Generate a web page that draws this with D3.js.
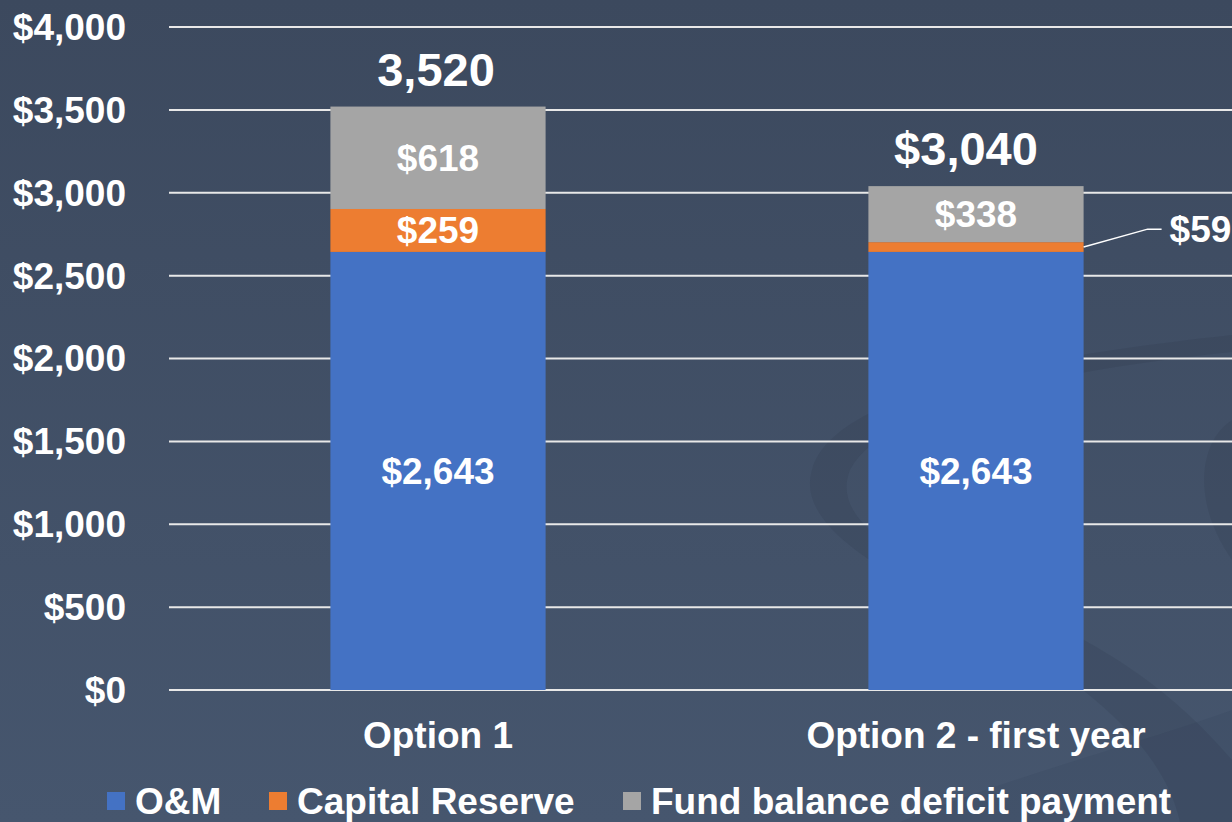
<!DOCTYPE html>
<html>
<head>
<meta charset="utf-8">
<script src="https://cdn.jsdelivr.net/npm/d3@7"></script>
<style>
  html, body { margin: 0; padding: 0; background: #42516a; }
  svg { display: block; }
  text { font-family: "Liberation Sans", Arial, sans-serif; font-weight: bold; fill: #ffffff; }
</style>
</head>
<body>
<script>
// chart data
let categories = ["Option 1", "Option 2 - first year"]
let seriesNames = ["O&M", "Capital Reserve", "Fund balance deficit payment"]
let omValues = [2643, 2643]
let capitalValues = [259, 59]
let deficitValues = [618, 338]
let totalLabels = ["3,520", "$3,040"]
let yTicks = [0, 500, 1000, 1500, 2000, 2500, 3000, 3500, 4000]
let colors = ["#4472c4", "#ed7d31", "#a5a5a5"]

let width = 1232
let height = 822

let svg = d3.select('body')
  .append('svg')
  .attr('width', width)
  .attr('height', height)

// background
let defs = svg.append('defs')
let grad = defs.append('linearGradient')
  .attr('id', 'bg')
  .attr('x1', 0).attr('y1', 0).attr('x2', 0).attr('y2', 1)
grad.append('stop').attr('offset', '0%').attr('stop-color', '#3c495e')
grad.append('stop').attr('offset', '100%').attr('stop-color', '#46566e')

svg.append('rect')
  .attr('width', width)
  .attr('height', height)
  .attr('fill', 'url(#bg)')

// decorative swoosh, bottom right
let deco = svg.append('g').attr('fill', '#1f2a3a').attr('fill-opacity', 0.12)
deco.append('path')
  .attr('d', 'M812,470 C830,400 1000,360 1232,335 L1232,352 C1040,372 880,410 850,470 C830,520 900,560 1000,600 C1120,650 1180,700 1232,760 L1232,822 L1180,822 C1160,730 1050,660 940,600 C840,550 800,510 812,470 Z')
deco.append('path')
  .attr('d', 'M1232,420 C1200,440 1190,500 1232,560 Z')
deco.append('path')
  .attr('d', 'M900,822 C1000,780 1150,740 1232,710 L1232,822 Z')
  .attr('fill-opacity', 0.08)

let x = d3.scaleBand()
  .domain(categories)
  .range([169, 1245])
  .paddingInner(0.6)
  .paddingOuter(0.3)

let y = d3.scaleLinear()
  .domain([0, 4000])
  .range([690, 27])

// gridlines
svg.append('g')
  .selectAll('line')
  .data(yTicks)
  .enter()
  .append('line')
  .attr('x1', 169)
  .attr('x2', width)
  .attr('y1', d => y(d))
  .attr('y2', d => y(d))
  .attr('stroke', '#e8e8e8')
  .attr('stroke-width', 2)

// y tick labels
svg.append('g')
  .selectAll('text')
  .data(yTicks)
  .enter()
  .append('text')
  .attr('x', 126)
  .attr('y', d => y(d))
  .attr('dy', '0.35em')
  .attr('text-anchor', 'end')
  .style('font-size', '37px')
  .text(d => '$' + d3.format(',')(d))

// stacked data
let rows = categories.map((c, i) => ({
  cat: c,
  "O&M": omValues[i],
  "Capital Reserve": capitalValues[i],
  "Fund balance deficit payment": deficitValues[i]
}))
let stacked = d3.stack().keys(seriesNames)(rows)

let layers = svg.append('g')
  .selectAll('g')
  .data(stacked)
  .enter()
  .append('g')
  .attr('fill', (d, i) => colors[i])

layers.selectAll('rect')
  .data(d => d)
  .enter()
  .append('rect')
  .attr('x', d => x(d.data.cat))
  .attr('width', x.bandwidth())
  .attr('y', d => y(d[1]))
  .attr('height', d => y(d[0]) - y(d[1]))

// segment labels inside bars (skip the thin one)
stacked.forEach((layer, li) => {
  layer.forEach((d, i) => {
    let v = d[1] - d[0]
    if (y(d[0]) - y(d[1]) < 30) return
    svg.append('text')
      .attr('x', x(d.data.cat) + x.bandwidth() / 2)
      .attr('y', (y(d[0]) + y(d[1])) / 2)
      .attr('dy', '0.35em')
      .attr('text-anchor', 'middle')
      .style('font-size', '37px')
      .text('$' + d3.format(',')(v))
  })
})

// callout for the thin capital reserve segment of option 2
let thin = stacked[1][1]
let thinY = (y(thin[0]) + y(thin[1])) / 2
let barRight = x(categories[1]) + x.bandwidth()
svg.append('polyline')
  .attr('points', [[barRight, thinY], [barRight + 64, y(thin[1]) - 13], [barRight + 78, y(thin[1]) - 13]].join(' '))
  .attr('fill', 'none')
  .attr('stroke', '#ffffff')
  .attr('stroke-width', 1.5)
svg.append('text')
  .attr('x', barRight + 86)
  .attr('y', y(thin[1]) - 13)
  .attr('dy', '0.35em')
  .style('font-size', '37px')
  .text('$' + (thin[1] - thin[0]))

// totals above bars
let totalShift = [-2, -10]
categories.forEach((c, i) => {
  let total = omValues[i] + capitalValues[i] + deficitValues[i]
  svg.append('text')
    .attr('x', x(c) + x.bandwidth() / 2 + totalShift[i])
    .attr('y', y(total) - 21)
    .attr('text-anchor', 'middle')
    .style('font-size', '47px')
    .text(totalLabels[i])
})

// category labels
svg.append('g')
  .selectAll('text')
  .data(categories)
  .enter()
  .append('text')
  .attr('x', d => x(d) + x.bandwidth() / 2)
  .attr('y', 748)
  .attr('text-anchor', 'middle')
  .style('font-size', '37px')
  .text(d => d)

// legend
let legendX = [107, 269, 623]
let legend = svg.append('g')
seriesNames.forEach((s, i) => {
  legend.append('rect')
    .attr('x', legendX[i])
    .attr('y', 792)
    .attr('width', 18)
    .attr('height', 18)
    .attr('fill', colors[i])
  legend.append('text')
    .attr('x', legendX[i] + 28)
    .attr('y', 814)
    .style('font-size', '37px')
    .text(s)
})
</script>
</body>
</html>
